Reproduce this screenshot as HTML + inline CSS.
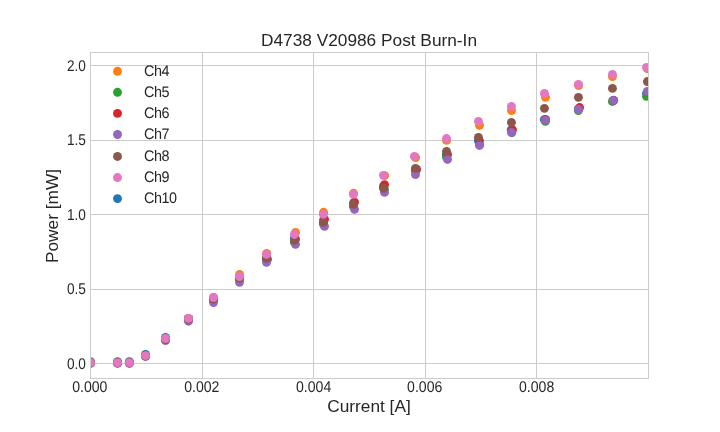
<!DOCTYPE html>
<html><head><meta charset="utf-8"><title>D4738 V20986 Post Burn-In</title>
<style>html,body{margin:0;padding:0;background:#fff;}body{width:720px;height:432px;overflow:hidden;}svg{display:block;}text{font-family:"Liberation Sans",sans-serif;fill:#262626;}</style></head><body>
<svg style="will-change:transform" width="720" height="432" viewBox="0 0 720 432">
<rect width="720" height="432" fill="#ffffff"/>
<g stroke="#cccccc" stroke-width="1" shape-rendering="crispEdges">
<line x1="202.5" y1="52.5" x2="202.5" y2="378.5"/>
<line x1="313.5" y1="52.5" x2="313.5" y2="378.5"/>
<line x1="425.5" y1="52.5" x2="425.5" y2="378.5"/>
<line x1="536.5" y1="52.5" x2="536.5" y2="378.5"/>
<line x1="90.5" y1="363.5" x2="648.5" y2="363.5"/>
<line x1="90.5" y1="289.5" x2="648.5" y2="289.5"/>
<line x1="90.5" y1="214.5" x2="648.5" y2="214.5"/>
<line x1="90.5" y1="140.5" x2="648.5" y2="140.5"/>
<line x1="90.5" y1="65.5" x2="648.5" y2="65.5"/>
</g>
<defs><clipPath id="c"><rect x="90" y="52" width="558.5" height="326.5"/></clipPath></defs>
<g clip-path="url(#c)">
<g fill="#1f77b4">
<circle cx="90.50" cy="361.65" r="4.45"/>
<circle cx="117.50" cy="361.65" r="4.45"/>
<circle cx="129.40" cy="361.65" r="4.45"/>
<circle cx="145.50" cy="354.45" r="4.45"/>
<circle cx="165.50" cy="337.40" r="4.45"/>
<circle cx="188.50" cy="318.40" r="4.45"/>
<circle cx="213.50" cy="299.00" r="4.45"/>
<circle cx="239.50" cy="278.60" r="4.45"/>
<circle cx="266.50" cy="258.60" r="4.45"/>
<circle cx="294.40" cy="237.80" r="4.45"/>
<circle cx="323.55" cy="220.10" r="4.45"/>
<circle cx="353.50" cy="203.00" r="4.45"/>
<circle cx="383.40" cy="186.30" r="4.45"/>
<circle cx="415.40" cy="169.60" r="4.45"/>
<circle cx="446.40" cy="154.40" r="4.45"/>
<circle cx="478.40" cy="140.80" r="4.45"/>
<circle cx="511.15" cy="129.80" r="4.45"/>
<circle cx="544.30" cy="119.60" r="4.45"/>
<circle cx="578.30" cy="109.00" r="4.45"/>
<circle cx="613.30" cy="100.40" r="4.45"/>
<circle cx="646.50" cy="93.30" r="4.45"/>
</g>
<g fill="#ff7f0e">
<circle cx="90.50" cy="362.60" r="4.45"/>
<circle cx="117.50" cy="362.60" r="4.45"/>
<circle cx="129.40" cy="362.60" r="4.45"/>
<circle cx="145.50" cy="355.60" r="4.45"/>
<circle cx="165.50" cy="338.50" r="4.45"/>
<circle cx="188.50" cy="318.45" r="4.45"/>
<circle cx="213.50" cy="297.50" r="4.45"/>
<circle cx="239.60" cy="274.40" r="4.45"/>
<circle cx="266.70" cy="253.35" r="4.45"/>
<circle cx="295.55" cy="232.35" r="4.45"/>
<circle cx="323.60" cy="212.30" r="4.45"/>
<circle cx="353.60" cy="193.30" r="4.45"/>
<circle cx="384.60" cy="175.60" r="4.45"/>
<circle cx="415.60" cy="157.55" r="4.45"/>
<circle cx="446.55" cy="140.40" r="4.45"/>
<circle cx="479.50" cy="125.30" r="4.45"/>
<circle cx="511.50" cy="110.50" r="4.45"/>
<circle cx="545.50" cy="97.30" r="4.45"/>
<circle cx="578.60" cy="85.50" r="4.45"/>
<circle cx="612.45" cy="76.60" r="4.45"/>
<circle cx="647.30" cy="68.60" r="4.45"/>
</g>
<g fill="#2ca02c">
<circle cx="90.50" cy="362.60" r="4.45"/>
<circle cx="117.50" cy="362.60" r="4.45"/>
<circle cx="129.40" cy="362.60" r="4.45"/>
<circle cx="145.50" cy="355.80" r="4.45"/>
<circle cx="165.50" cy="339.20" r="4.45"/>
<circle cx="188.50" cy="319.50" r="4.45"/>
<circle cx="213.50" cy="299.50" r="4.45"/>
<circle cx="239.50" cy="279.20" r="4.45"/>
<circle cx="266.50" cy="259.60" r="4.45"/>
<circle cx="294.40" cy="242.30" r="4.45"/>
<circle cx="323.40" cy="224.00" r="4.45"/>
<circle cx="353.40" cy="206.40" r="4.45"/>
<circle cx="384.50" cy="189.50" r="4.45"/>
<circle cx="415.45" cy="171.30" r="4.45"/>
<circle cx="446.40" cy="157.00" r="4.45"/>
<circle cx="479.50" cy="144.60" r="4.45"/>
<circle cx="511.80" cy="132.70" r="4.45"/>
<circle cx="545.40" cy="121.40" r="4.45"/>
<circle cx="578.40" cy="110.50" r="4.45"/>
<circle cx="612.40" cy="101.45" r="4.45"/>
<circle cx="646.50" cy="96.30" r="4.45"/>
</g>
<g fill="#d62728">
<circle cx="90.50" cy="362.60" r="4.45"/>
<circle cx="117.50" cy="362.60" r="4.45"/>
<circle cx="129.40" cy="362.60" r="4.45"/>
<circle cx="145.50" cy="355.80" r="4.45"/>
<circle cx="165.50" cy="339.20" r="4.45"/>
<circle cx="188.50" cy="319.50" r="4.45"/>
<circle cx="213.50" cy="299.30" r="4.45"/>
<circle cx="239.50" cy="278.80" r="4.45"/>
<circle cx="267.45" cy="259.30" r="4.45"/>
<circle cx="295.50" cy="239.20" r="4.45"/>
<circle cx="324.50" cy="219.30" r="4.45"/>
<circle cx="354.50" cy="202.20" r="4.45"/>
<circle cx="384.50" cy="184.70" r="4.45"/>
<circle cx="416.60" cy="169.50" r="4.45"/>
<circle cx="447.50" cy="154.50" r="4.45"/>
<circle cx="479.50" cy="140.80" r="4.45"/>
<circle cx="512.50" cy="129.80" r="4.45"/>
<circle cx="545.60" cy="119.40" r="4.45"/>
<circle cx="579.60" cy="107.55" r="4.45"/>
<circle cx="613.70" cy="100.30" r="4.45"/>
<circle cx="648.30" cy="92.00" r="4.45"/>
</g>
<g fill="#9467bd">
<circle cx="90.50" cy="363.45" r="4.45"/>
<circle cx="117.50" cy="363.45" r="4.45"/>
<circle cx="129.40" cy="363.45" r="4.45"/>
<circle cx="145.50" cy="356.30" r="4.45"/>
<circle cx="165.50" cy="340.60" r="4.45"/>
<circle cx="188.50" cy="321.20" r="4.45"/>
<circle cx="213.50" cy="302.50" r="4.45"/>
<circle cx="239.50" cy="282.35" r="4.45"/>
<circle cx="266.50" cy="262.35" r="4.45"/>
<circle cx="295.50" cy="244.35" r="4.45"/>
<circle cx="324.50" cy="226.30" r="4.45"/>
<circle cx="354.50" cy="209.30" r="4.45"/>
<circle cx="384.50" cy="192.40" r="4.45"/>
<circle cx="415.50" cy="174.60" r="4.45"/>
<circle cx="447.50" cy="159.45" r="4.45"/>
<circle cx="479.50" cy="145.45" r="4.45"/>
<circle cx="511.60" cy="132.45" r="4.45"/>
<circle cx="545.40" cy="120.20" r="4.45"/>
<circle cx="578.50" cy="109.50" r="4.45"/>
<circle cx="613.50" cy="100.40" r="4.45"/>
<circle cx="647.40" cy="91.40" r="4.45"/>
</g>
<g fill="#8c564b">
<circle cx="90.50" cy="362.90" r="4.45"/>
<circle cx="117.50" cy="362.90" r="4.45"/>
<circle cx="129.40" cy="362.90" r="4.45"/>
<circle cx="145.50" cy="356.00" r="4.45"/>
<circle cx="165.50" cy="339.50" r="4.45"/>
<circle cx="188.50" cy="319.20" r="4.45"/>
<circle cx="213.50" cy="299.10" r="4.45"/>
<circle cx="239.50" cy="278.20" r="4.45"/>
<circle cx="266.50" cy="258.20" r="4.45"/>
<circle cx="294.50" cy="240.30" r="4.45"/>
<circle cx="323.45" cy="222.30" r="4.45"/>
<circle cx="353.50" cy="204.30" r="4.45"/>
<circle cx="383.50" cy="188.30" r="4.45"/>
<circle cx="415.45" cy="168.45" r="4.45"/>
<circle cx="446.50" cy="151.40" r="4.45"/>
<circle cx="478.45" cy="137.40" r="4.45"/>
<circle cx="511.45" cy="122.40" r="4.45"/>
<circle cx="544.45" cy="108.35" r="4.45"/>
<circle cx="578.45" cy="97.35" r="4.45"/>
<circle cx="612.45" cy="88.40" r="4.45"/>
<circle cx="647.40" cy="81.55" r="4.45"/>
</g>
<g fill="#e377c2">
<circle cx="90.50" cy="362.60" r="4.45"/>
<circle cx="117.50" cy="362.60" r="4.45"/>
<circle cx="129.40" cy="362.60" r="4.45"/>
<circle cx="145.50" cy="355.60" r="4.45"/>
<circle cx="165.50" cy="338.50" r="4.45"/>
<circle cx="188.50" cy="318.40" r="4.45"/>
<circle cx="213.50" cy="297.50" r="4.45"/>
<circle cx="239.50" cy="276.50" r="4.45"/>
<circle cx="266.50" cy="254.40" r="4.45"/>
<circle cx="294.40" cy="234.45" r="4.45"/>
<circle cx="323.40" cy="214.40" r="4.45"/>
<circle cx="353.45" cy="194.30" r="4.45"/>
<circle cx="383.45" cy="175.35" r="4.45"/>
<circle cx="414.45" cy="156.40" r="4.45"/>
<circle cx="446.50" cy="138.55" r="4.45"/>
<circle cx="478.45" cy="121.40" r="4.45"/>
<circle cx="511.45" cy="106.40" r="4.45"/>
<circle cx="544.45" cy="93.40" r="4.45"/>
<circle cx="578.45" cy="84.40" r="4.45"/>
<circle cx="612.45" cy="74.40" r="4.45"/>
<circle cx="646.50" cy="67.50" r="4.45"/>
</g>
</g>
<rect x="90.5" y="52.5" width="558" height="326" fill="none" stroke="#cccccc" stroke-width="1" shape-rendering="crispEdges"/>
<g font-size="14.4px" text-anchor="middle" style="text-rendering:geometricPrecision">
<text transform="translate(89.8,391.9) scale(0.977,1.08)">0.000</text>
<text transform="translate(201.8,391.9) scale(0.977,1.08)">0.002</text>
<text transform="translate(313.6,391.9) scale(0.977,1.08)">0.004</text>
<text transform="translate(424.7,391.9) scale(0.977,1.08)">0.006</text>
<text transform="translate(536.6,391.9) scale(0.977,1.08)">0.008</text>
</g>
<g font-size="14.4px" text-anchor="end" style="text-rendering:geometricPrecision">
<text transform="translate(85.9,368.8) scale(0.946,1.08)">0.0</text>
<text transform="translate(85.9,293.9) scale(0.946,1.08)">0.5</text>
<text transform="translate(85.9,219.8) scale(0.946,1.08)">1.0</text>
<text transform="translate(85.9,144.9) scale(0.946,1.08)">1.5</text>
<text transform="translate(85.9,70.8) scale(0.946,1.08)">2.0</text>
</g>
<text x="369" y="45.7" font-size="17.28px" text-anchor="middle">D4738 V20986 Post Burn-In</text>
<text x="369" y="412" font-size="17.28px" text-anchor="middle">Current [A]</text>
<text transform="translate(58,216) rotate(-90)" font-size="17.28px" text-anchor="middle">Power [mW]</text>
<g font-size="14.4px" letter-spacing="-0.45" style="text-rendering:geometricPrecision">
<circle cx="117.5" cy="71.30" r="4.45" fill="#ff7f0e"/>
<text transform="translate(144,75.70) scale(1,1.06)">Ch4</text>
<circle cx="117.5" cy="92.30" r="4.45" fill="#2ca02c"/>
<text transform="translate(144,96.70) scale(1,1.06)">Ch5</text>
<circle cx="117.5" cy="113.40" r="4.45" fill="#d62728"/>
<text transform="translate(144,117.70) scale(1,1.06)">Ch6</text>
<circle cx="117.5" cy="134.50" r="4.45" fill="#9467bd"/>
<text transform="translate(144,138.70) scale(1,1.06)">Ch7</text>
<circle cx="117.5" cy="156.45" r="4.45" fill="#8c564b"/>
<text transform="translate(144,160.70) scale(1,1.06)">Ch8</text>
<circle cx="117.5" cy="177.55" r="4.45" fill="#e377c2"/>
<text transform="translate(144,181.70) scale(1,1.06)">Ch9</text>
<circle cx="117.5" cy="198.60" r="4.45" fill="#1f77b4"/>
<text transform="translate(144,202.70) scale(1,1.06)">Ch10</text>
</g>
</svg></body></html>
